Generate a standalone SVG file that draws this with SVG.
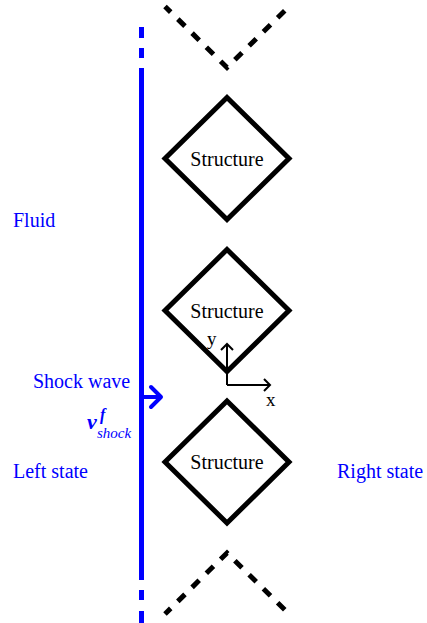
<svg xmlns="http://www.w3.org/2000/svg" width="427" height="623" viewBox="0 0 427 623">
<style>
.lbl{font-family:"Liberation Serif","Times New Roman",serif;font-size:20px;fill:#0000ff}
.st{font-family:"Liberation Serif","Times New Roman",serif;font-size:20px;fill:#000;text-anchor:middle}
.dia{fill:none;stroke:#000;stroke-width:5;stroke-linejoin:miter}
.dash{fill:none;stroke:#000;stroke-width:5;stroke-dasharray:10 10}
.ax{fill:none;stroke:#000;stroke-width:2}
.blue{fill:#0000ff}
</style>
<rect width="427" height="623" fill="#fff"/>
<g id="shock">
<rect class="blue" x="139" y="27" width="5" height="11"/>
<rect class="blue" x="139" y="48" width="5" height="10"/>
<rect class="blue" x="139" y="68" width="5" height="512"/>
<rect class="blue" x="139" y="590" width="5" height="10"/>
<rect class="blue" x="139" y="611" width="5" height="12"/>
<path d="M144,397 H160 M151,387 L161,397 L151,407" fill="none" stroke="#0000ff" stroke-width="4" stroke-linecap="round" stroke-linejoin="round"/>
</g>
<g id="neighbors">
<path class="dash" d="M165,6.5 L227,67.5 L289,6.5" stroke-dashoffset="2"/>
<path class="dash" d="M165,614 L227,553 L289,614" stroke-dashoffset="2"/>
</g>
<g id="structure1">
<polygon class="dia" points="227,97.5 289,158.5 227,219.5 165,158.5"/>
<text class="st" x="227" y="166">Structure</text>
</g>
<g id="structure2">
<polygon class="dia" points="227,249.5 289,310.5 227,371.5 165,310.5"/>
<text class="st" x="227" y="318">Structure</text>
</g>
<g id="structure3">
<polygon class="dia" points="227,401 289,462 227,523 165,462"/>
<text class="st" x="227" y="469">Structure</text>
</g>
<g id="axes">
<path class="ax" d="M227,385 V344 M221,350 L227,344 L233,350 M227,385 H270 M264,379 L270,385 L264,391"/>
<text x="207" y="345" style="font-family:'Liberation Serif',serif;font-size:19px">y</text>
<text x="266" y="406" style="font-family:'Liberation Serif',serif;font-size:19px">x</text>
</g>
<g id="labels">
<text class="lbl" x="13" y="227">Fluid</text>
<text class="lbl" x="33" y="388">Shock wave</text>
<text class="lbl" x="87" y="429" style="font-weight:bold;font-style:italic;font-size:22px">v</text>
<text class="lbl" x="100" y="420" style="font-weight:bold;font-style:italic;font-size:16px">f</text>
<text class="lbl" x="97" y="438" style="font-style:italic;font-size:15px">shock</text>
<text class="lbl" x="13" y="478">Left state</text>
<text class="lbl" x="337" y="478">Right state</text>
</g>
</svg>
